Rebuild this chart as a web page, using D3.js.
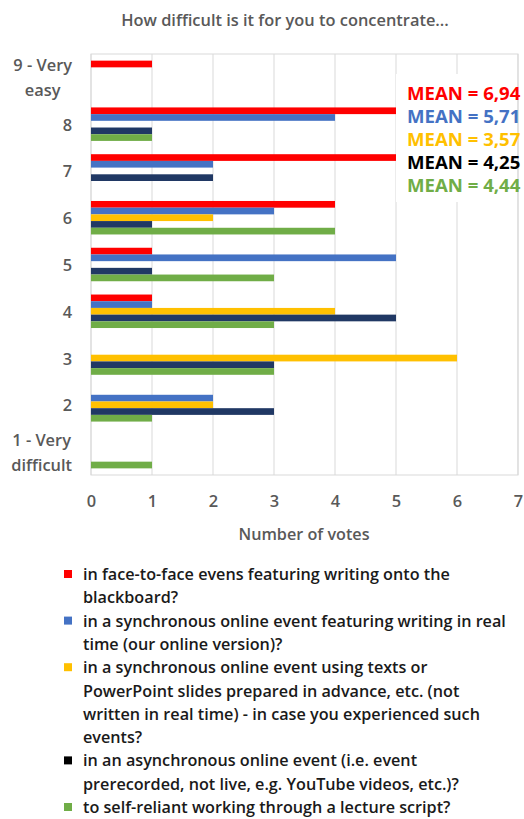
<!DOCTYPE html>
<html>
<head>
<meta charset="utf-8">
<script src="https://cdn.jsdelivr.net/npm/d3@7"></script>
<style>
  html, body { margin: 0; padding: 0; background: #fff; }
  svg { display: block; }
  text { font-family: "Open Sans", "DejaVu Sans", sans-serif; }
</style>
</head>
<body>
<svg id="chart" width="524" height="819"></svg>
<script>
// Rating categories, top to bottom
const categories = ["9 - Very easy", "8", "7", "6", "5", "4", "3", "2", "1 - Very difficult"];
const categoryLines = [["9 - Very", "easy"], ["8"], ["7"], ["6"], ["5"], ["4"], ["3"], ["2"], ["1 - Very", "difficult"]];

// Votes per rating (same order as categories) for each teaching format
const faceToFace   = [1, 6, 5, 4, 1, 1, 0, 0, 0];
const syncWriting  = [0, 4, 2, 3, 5, 1, 0, 2, 0];
const syncSlides   = [0, 0, 0, 2, 0, 4, 6, 2, 0];
const asyncVideo   = [0, 1, 2, 1, 1, 5, 3, 3, 0];
const lectureNotes = [0, 1, 0, 4, 3, 3, 3, 1, 1];

const seriesValues = [faceToFace, syncWriting, syncSlides, asyncVideo, lectureNotes];
const seriesKeys = ["faceToFace", "syncWriting", "syncSlides", "asyncVideo", "lectureNotes"];

const meanLabels = ["MEAN = 6,94", "MEAN = 5,71", "MEAN = 3,57", "MEAN = 4,25", "MEAN = 4,44"];

const xTicks = [0, 1, 2, 3, 4, 5, 6, 7];

const legendLabels = [
  ["in face-to-face evens featuring writing onto the", "blackboard?"],
  ["in a synchronous online event featuring writing in real", "time (our online version)?"],
  ["in a synchronous online event using texts or", "PowerPoint slides prepared in advance, etc. (not", "written in real time) - in case you experienced such", "events?"],
  ["in an asynchronous online event (i.e. event", "prerecorded, not live, e.g. YouTube videos, etc.)?"],
  ["to self-reliant working through a lecture script?"]
];

const titleText = "How difficult is it for you to concentrate...";
const xTitle = "Number of votes";

// Styling
const barColors = ["#FF0000", "#4472C4", "#FFC000", "#203864", "#70AD47"];
const keyColors = ["#FF0000", "#4472C4", "#FFC000", "#000000", "#70AD47"];
const meanColors = ["#FF0000", "#4472C4", "#FFC000", "#000000", "#70AD47"];
const gridColor = "#D9D9D9";
const axisText = "#595959";

const svg = d3.select("#chart");
const plot = { left: 91, right: 518, top: 54, bottom: 475 };

const x = d3.scaleLinear().domain([0, 7]).range([plot.left, plot.right]);
const y0 = d3.scaleBand().domain(categories).range([plot.top, plot.bottom])
  .paddingInner(0.284).paddingOuter(0.142);
const y1 = d3.scaleBand().domain(seriesKeys).range([0, y0.bandwidth()]);

// Title
svg.append("text")
  .attr("x", 285).attr("y", 19)
  .attr("text-anchor", "middle").attr("dominant-baseline", "central")
  .attr("font-size", 16.4).attr("font-weight", 600).attr("fill", axisText)
  .text(titleText);

// Vertical gridlines
svg.append("g").selectAll("line").data(xTicks).join("line")
  .attr("x1", d => x(d)).attr("x2", d => x(d))
  .attr("y1", plot.top).attr("y2", plot.bottom)
  .attr("stroke", gridColor).attr("stroke-width", 1);

// Plot border
svg.append("rect")
  .attr("x", plot.left).attr("y", plot.top)
  .attr("width", plot.right - plot.left).attr("height", plot.bottom - plot.top)
  .attr("fill", "none").attr("stroke", gridColor).attr("stroke-width", 1);

// Bars
const groups = svg.append("g").selectAll("g").data(categories).join("g")
  .attr("transform", c => `translate(0,${y0(c)})`);
groups.selectAll("rect")
  .data((c, ci) => seriesKeys.map((k, si) => ({ k, si, v: seriesValues[si][ci] })))
  .join("rect")
  .attr("x", x(0))
  .attr("y", d => y1(d.k))
  .attr("width", d => x(d.v) - x(0))
  .attr("height", y1.bandwidth())
  .attr("fill", d => barColors[d.si]);

// Mean box (white panel over the plot)
const meanBox = svg.append("g");
meanBox.append("rect")
  .attr("x", 396).attr("y", 74).attr("width", 121).attr("height", 128)
  .attr("fill", "#fff");
meanBox.selectAll("text").data(meanLabels).join("text")
  .attr("x", 407).attr("y", (d, i) => 92 + i * 23.1)
  .attr("dominant-baseline", "central")
  .attr("font-size", 18.6).attr("font-weight", 700)
  .attr("fill", (d, i) => meanColors[i])
  .text(d => d);

// Category labels
const yLab = svg.append("g");
categories.forEach((c, i) => {
  const lines = categoryLines[i];
  const cy = y0(c) + y0.bandwidth() / 2;
  const g = yLab.append("g");
  const texts = g.selectAll("text").data(lines).join("text")
    .attr("y", (d, j) => cy + (j - (lines.length - 1) / 2) * 25)
    .attr("dominant-baseline", "central")
    .attr("font-size", 16.4).attr("font-weight", 600).attr("fill", axisText)
    .text(d => d);
  if (lines.length === 1) {
    texts.attr("x", 72).attr("text-anchor", "end");
  } else {
    let w = 0;
    texts.each(function () { w = Math.max(w, this.getComputedTextLength()); });
    texts.attr("x", 72 - w / 2).attr("text-anchor", "middle");
  }
});

// X axis
const xAxis = svg.append("g")
  .attr("transform", `translate(0,${plot.bottom})`)
  .call(d3.axisBottom(x).tickValues(xTicks).tickFormat(d3.format("d")).tickSize(0));
xAxis.select(".domain").remove();
xAxis.selectAll("text")
  .attr("y", 26).attr("dy", "0.35em")
  .attr("font-family", "\"Open Sans\", sans-serif")
  .attr("font-size", 16.4).attr("font-weight", 600).attr("fill", axisText);

svg.append("text")
  .attr("x", 304).attr("y", 534)
  .attr("text-anchor", "middle").attr("dominant-baseline", "central")
  .attr("font-size", 16.2).attr("font-weight", 600).attr("fill", axisText)
  .text(xTitle);

// Legend
const legend = svg.append("g");
const lineStep = 23.3;
let row = 0;
legendLabels.forEach((lines, i) => {
  const cy0 = 574 + row * lineStep;
  legend.append("rect")
    .attr("x", 64).attr("y", cy0 - 4).attr("width", 8).attr("height", 8)
    .attr("fill", keyColors[i]);
  lines.forEach((t, j) => {
    legend.append("text")
      .attr("x", 83).attr("y", cy0 + j * lineStep)
      .attr("dominant-baseline", "central")
      .attr("font-size", 16.2).attr("font-weight", 600).attr("fill", "#1a1a1a")
      .text(t);
  });
  row += lines.length;
});
</script>
</body>
</html>
